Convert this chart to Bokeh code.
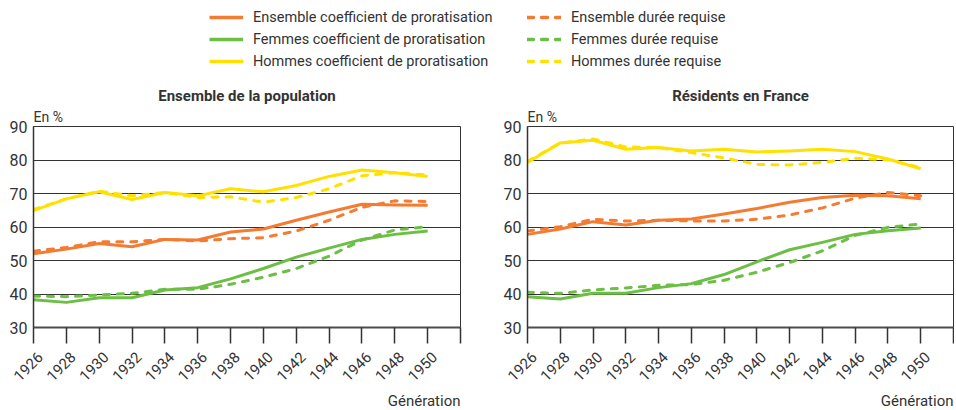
import math
from bokeh.plotting import figure
from bokeh.models import (Range1d, FixedTicker, Legend, LegendItem, Title, LinearAxis,
                          CustomLabelingPolicy)
from bokeh.layouts import column, row
from bokeh.embed import file_html
from bokeh.resources import INLINE

# ---------------- data ----------------
years = [1926, 1928, 1930, 1932, 1934, 1936, 1938, 1940, 1942, 1944, 1946, 1948, 1950]
x_ticks = [1926, 1928, 1930, 1932, 1934, 1936, 1938, 1940, 1942, 1944, 1946, 1948, 1950, 1952]
y_ticks = [30, 40, 50, 60, 70, 80, 90]

# Ensemble de la population
pop_ens_coef = [52.0, 53.4, 55.1, 54.1, 56.3, 56.1, 58.5, 59.4, 62.0, 64.5, 66.8, 66.6, 66.5]
pop_ens_duree = [52.8, 53.9, 55.6, 55.6, 56.3, 55.8, 56.5, 56.8, 58.8, 62.0, 65.9, 67.8, 67.6]
pop_fem_coef = [38.3, 37.5, 38.9, 38.9, 41.2, 41.9, 44.5, 47.6, 51.0, 53.7, 56.3, 57.8, 58.8]
pop_fem_duree = [39.4, 39.2, 39.7, 40.2, 41.4, 41.4, 42.9, 45.0, 47.6, 51.3, 56.1, 59.1, 60.1]
pop_hom_coef = [64.9, 68.4, 70.5, 68.2, 70.3, 69.3, 71.4, 70.5, 72.4, 75.1, 77.0, 76.2, 75.1]
pop_hom_duree = [65.2, 68.4, 70.7, 69.3, 70.3, 68.8, 69.0, 67.4, 68.8, 71.4, 75.3, 76.2, 75.5]

# Résidents en France
res_ens_coef = [57.8, 59.4, 61.6, 60.6, 62.0, 62.4, 63.9, 65.5, 67.4, 68.8, 69.5, 69.3, 68.4]
res_ens_duree = [58.8, 60.1, 62.3, 61.8, 62.0, 61.8, 61.8, 62.3, 63.6, 65.7, 68.6, 70.3, 69.3]
res_fem_coef = [39.2, 38.5, 40.2, 40.2, 41.9, 43.1, 45.8, 49.6, 53.2, 55.4, 57.8, 58.9, 59.7]
res_fem_duree = [40.5, 40.2, 41.2, 41.8, 42.6, 42.8, 44.1, 46.5, 49.4, 52.9, 57.5, 59.9, 60.9]
res_hom_coef = [79.3, 85.1, 85.9, 83.2, 83.7, 82.7, 83.2, 82.4, 82.7, 83.2, 82.5, 80.3, 77.4]
res_hom_duree = [79.6, 85.1, 86.3, 83.9, 83.7, 82.2, 80.6, 78.7, 78.5, 79.3, 80.5, 80.1, 77.7]

titles = ["Ensemble de la population", "Résidents en France"]
legend_solid = ["Ensemble coefficient de proratisation",
                "Femmes coefficient de proratisation",
                "Hommes coefficient de proratisation"]
legend_dashed = ["Ensemble durée requise", "Femmes durée requise", "Hommes durée requise"]

# ---------------- style ----------------
FONT = "Roboto"
TXT = "#333333"
ORANGE = "#F47B32"
GREEN = "#6CBE45"
YELLOW = "#FFE100"
COLORS = [ORANGE, GREEN, YELLOW]
DASH = "6 8"
LW = 3
LABEL_SHIFT = 0.4   # horizontal nudge of the rotated year labels (in years)

HIDE_LABELS = "for (const i of indices) indices.unset(i)\nreturn indices"


def make_panel(title, series, width, left, right):
    p = figure(width=width, height=336, x_range=Range1d(1926, 1952), y_range=Range1d(30, 90),
               output_backend="svg", toolbar_location=None,
               min_border_left=left, min_border_right=right,
               min_border_top=53, min_border_bottom=73)
    p.background_fill_color = "white"
    p.border_fill_color = "white"
    p.outline_line_color = "#333333"
    p.outline_line_width = 1

    p.xgrid.visible = False
    p.ygrid.ticker = FixedTicker(ticks=y_ticks)
    p.ygrid.grid_line_color = "#333333"
    p.ygrid.grid_line_width = 1

    # main x axis: line + tick marks only (labels filtered out)
    xa = p.xaxis[0]
    xa.ticker = FixedTicker(ticks=x_ticks)
    xa.major_label_policy = CustomLabelingPolicy(code=HIDE_LABELS)
    xa.major_label_text_font_size = "1px"
    xa.major_label_standoff = 0
    xa.major_tick_out = 16
    xa.major_tick_in = 0
    xa.minor_tick_line_color = None
    xa.axis_line_color = "#4d4d4d"
    xa.axis_line_width = 2
    xa.major_tick_line_color = "#333333"
    xa.major_tick_line_width = 1.5

    # second axis carrying the rotated year labels
    p.extra_x_ranges = {"lab": Range1d(1926 - LABEL_SHIFT, 1952 - LABEL_SHIFT)}
    lab = LinearAxis(x_range_name="lab", ticker=FixedTicker(ticks=x_ticks),
                     major_label_overrides={1952: ""},
                     major_label_orientation=math.pi / 4,
                     axis_line_color=None, major_tick_line_color=None,
                     minor_tick_line_color=None, major_tick_in=0, major_tick_out=0,
                     major_label_standoff=7, major_label_text_font=FONT,
                     major_label_text_font_size="15px", major_label_text_color=TXT)
    p.add_layout(lab, "below")

    ya = p.yaxis[0]
    ya.ticker = FixedTicker(ticks=y_ticks)
    ya.major_tick_out = 0
    ya.major_tick_in = 0
    ya.minor_tick_line_color = None
    ya.axis_line_color = "#333333"
    ya.axis_line_width = 1.5
    ya.major_label_text_font = FONT
    ya.major_label_text_font_size = "16px"
    ya.major_label_text_color = TXT
    ya.major_label_standoff = 6

    (ens_c, ens_d, fem_c, fem_d, hom_c, hom_d) = series
    for (sol, das), col in zip([(ens_c, ens_d), (fem_c, fem_d), (hom_c, hom_d)], COLORS):
        p.line(years, sol, line_color=col, line_width=LW, line_join="round")
        p.line(years, das, line_color=col, line_width=LW, line_dash=DASH,
               line_cap="round", line_join="round")

    p.title.text = title
    p.title.align = "center"
    p.title.text_font = FONT
    p.title.text_font_size = "15px"
    p.title.text_font_style = "bold"
    p.title.text_color = TXT
    p.title.standoff = 0

    p.add_layout(Title(text="En %", align="left", text_font=FONT, text_font_size="14px",
                       text_font_style="normal", text_color=TXT, standoff=4), "above")
    p.add_layout(Title(text="Génération", align="right", text_font=FONT, text_font_size="15px",
                       text_font_style="normal", text_color=TXT, standoff=0), "below")
    return p


p1 = make_panel(titles[0], (pop_ens_coef, pop_ens_duree, pop_fem_coef, pop_fem_duree,
                            pop_hom_coef, pop_hom_duree), 476, 33, 16)
p2 = make_panel(titles[1], (res_ens_coef, res_ens_duree, res_fem_coef, res_fem_duree,
                            res_hom_coef, res_hom_duree), 478, 51, 1)

# ---------------- legend ----------------
lg = figure(width=954, height=73, x_range=Range1d(0, 1), y_range=Range1d(0, 1),
            output_backend="svg", toolbar_location=None, min_border=0,
            x_axis_location=None, y_axis_location=None)
lg.outline_line_color = None
lg.grid.visible = False

dummy_x = [5, 6]
dummy_y = [5, 6]
items_s, items_d = [], []
for lab_s, lab_d, col in zip(legend_solid, legend_dashed, COLORS):
    rs = lg.line(x=dummy_x, y=dummy_y, line_color=col, line_width=LW + 0.5)
    rd = lg.line(x=dummy_x, y=dummy_y, line_color=col, line_width=LW + 0.5, line_dash=DASH,
                 line_cap="round")
    items_s.append(LegendItem(label=lab_s, renderers=[rs]))
    items_d.append(LegendItem(label=lab_d, renderers=[rd]))

for items, xloc in [(items_s, 209), (items_d, 527)]:
    leg = Legend(items=items, location=(xloc, 2), orientation="vertical",
                 padding=0, margin=0, spacing=2, border_line_color=None,
                 background_fill_alpha=0, glyph_width=34, glyph_height=20,
                 label_height=20, label_standoff=10, label_text_font=FONT,
                 label_text_font_size="14.5px", label_text_color=TXT)
    lg.add_layout(leg)

layout = column(lg, row(p1, p2))
open("out.html", "w").write(file_html(layout, INLINE))
